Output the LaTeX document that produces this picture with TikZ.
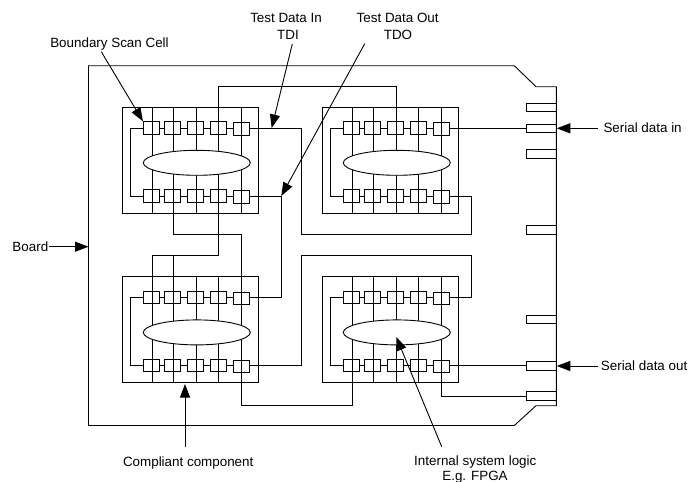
\documentclass[tikz,border=0pt]{standalone}
\usepackage{fontspec}
\setmainfont{Liberation Sans}
\usetikzlibrary{arrows.meta,shapes.geometric,calc}
\tikzset{
  wire/.style={draw=black,line width=0.9pt,line join=miter},
  chipbox/.style={draw=black,line width=0.9pt,minimum width=136pt,minimum height=106pt,inner sep=0pt},
  cellbox/.style={draw=black,line width=0.9pt,minimum width=15.8pt,minimum height=12.5pt,inner sep=0pt},
  logicbox/.style={ellipse,draw=black,fill=white,line width=0.9pt,minimum width=107pt,minimum height=25pt,inner sep=0pt},
  portbox/.style={draw=black,line width=0.9pt,minimum width=29.6pt,minimum height=8.6pt,inner sep=0pt},
  pointer/.style={draw=black,line width=0.9pt,-{Triangle[length=13.5pt,width=10pt]}},
  lbl/.style={font=\fontsize{13.4pt}{16pt}\selectfont,inner sep=0pt,text=black,anchor=base},
  lblw/.style={lbl,anchor=base west}
}
\newcommand{\chipdraw}[3]{%
 \begin{scope}[shift={(#2,#3)}]
  \node[chipbox] (#1box) at (190.3,160.3) {};
  \foreach \i/\vx in {1/152.3,2/173.3,3/196.3,4/218.7,5/241.7}{
    \coordinate (#1v\i t) at (\vx,107.3);
    \coordinate (#1v\i b) at (\vx,213.3);
    \draw[wire] (#1v\i t) -- (#1v\i b);
  }
  \foreach \i/\cx/\dy in {1/151.3/0,2/172.8/0,3/195.8/0,4/218.8/0,5/241.2/1}{
    \node[cellbox] (#1t\i) at (\cx,128+\dy) {};
    \node[cellbox] (#1b\i) at (\cx,196+\dy) {};
  }
  \foreach \i/\j in {1/2,2/3,3/4,4/5}{
    \draw[wire] (#1t\i.east) -- (#1t\i.east -| #1t\j.west);
    \draw[wire] (#1b\i.east) -- (#1b\i.east -| #1b\j.west);
  }
  \coordinate (#1loop) at (130.7,160);
  \draw[wire] (#1t1.west) -- (#1t1.west -| #1loop) -- (#1b1.west -| #1loop) -- (#1b1.west);
  \node[logicbox] (#1core) at (196.8,162.8) {};
  \coordinate (#1tout) at (#1t5.east |- #1t4.east);
  \coordinate (#1bout) at (#1b5.east |- #1b4.east);
 \end{scope}}
\begin{document}
\begin{tikzpicture}[x=1pt,y=-1pt]
\useasboundingbox (0,0) rectangle (689,482);
% board
\coordinate (bTL) at (88.5,65.7);
\coordinate (bT1) at (514.3,65.7);
\coordinate (bT2) at (536,86.7);
\coordinate (bTR) at (556.3,86.7);
\coordinate (bBR) at (556.3,405.7);
\coordinate (bB2) at (536,405.7);
\coordinate (bB1) at (514.3,425.5);
\coordinate (bBL) at (88.5,425.5);
\draw[wire] (bTL) -- (bT1) -- (bT2) -- (bTR) -- (bBR) -- (bB2) -- (bB1) -- (bBL) -- cycle;
% ports
\foreach \i/\py in {1/107.5,2/128.3,3/154,4/230.2,5/319.4,6/366,7/395.7}{
  \node[portbox] (port\i) at (541.5,\py) {};
}
% chips
\chipdraw{ca}{0}{0}
\chipdraw{cb}{200}{0}
\chipdraw{cc}{0}{169.6}
\chipdraw{cd}{200}{169.6}
% routing levels
\coordinate (yA) at (0,86);
\coordinate (yB) at (0,234.3);
\coordinate (yC) at (0,255.7);
\coordinate (yD) at (0,405.7);
\coordinate (yE) at (0,396);
\coordinate (xA) at (281.3,0);
\coordinate (xB) at (301,0);
\coordinate (xC) at (471.3,0);
% connections between chips
\draw[wire] (cav4t) -- (cav4t |- yA) -- (cbv3t |- yA) -- (cbv3t);
\draw[wire] (cav2b) -- (cav2b |- yB) -- (ccv5t |- yB) -- (ccv5t);
\draw[wire] (ccv5b) -- (ccv5b |- yD) -- (cdv1b |- yD) -- (cdv1b);
\draw[wire] (cav4b) -- (cav4b |- yC) -- (ccv1t |- yC) -- (ccv1t);
\draw[wire] (ccv2t) -- (ccv2t |- yC);
\draw[wire] (catout) -- (catout -| xB) -- (xB |- yB) -- (xC |- yB) -- (cbbout -| xC) -- (cbbout);
\draw[wire] (cabout) -- (cabout -| xA) -- (cctout -| xA) -- (cctout);
\draw[wire] (ccbout) -- (ccbout -| xB) -- (xB |- yC) -- (xC |- yC) -- (cdtout -| xC) -- (cdtout);
\draw[wire] (cbtout) -- (cbtout -| port2.west);
\draw[wire] (cdbout) -- (cdbout -| port6.west);
\draw[wire] (cdv5b) -- (cdv5b |- yE) -- (port7.west |- yE);
% labels
\node[lbl] (lBSC) at (109.5,47.7) {Boundary Scan Cell};
\node[lbl] (lTDI1) at (286,22.7) {Test Data In};
\node[lbl] (lTDI2) at (288,39) {TDI};
\node[lbl] (lTDO1) at (397.7,22.7) {Test Data Out};
\node[lbl] (lTDO2) at (398,39) {TDO};
\node[lblw] (lSIn) at (603.3,132.7) {Serial data in};
\node[lblw] (lSOut) at (600.7,370) {Serial data out};
\node[lblw] (lBoard) at (12.3,251) {Board};
\node[lbl] (lComp) at (188.2,466.7) {Compliant component};
\node[lbl] (lInt1) at (475.3,465) {Internal system logic};
\node[lbl] (lInt2) at (475,480) {E.g. FPGA};
% pointer ends
\coordinate (pBSC) at (101.3,51.7);
\coordinate (pTDI) at (292.3,44);
\coordinate (pTDO) at (364.7,43.7);
\coordinate (pSIn) at (598,128.3);
\coordinate (pSOut) at (598,366);
\coordinate (pBoard) at (49,246.7);
\coordinate (pComp) at (185,446.7);
\coordinate (pInt) at (441.7,446.7);
\coordinate (tIntern) at (396.3,337);
\coordinate (tComp) at (185,384);
\draw[pointer] (pBSC) -- (cat1.north west);
\draw[pointer] (pTDI) -- (catout -| 271.7,0);
\draw[pointer] (pTDO) -- (cabout -| xA);
\draw[pointer] (pSIn) -- (port2.east);
\draw[pointer] (pSOut) -- (port6.east);
\draw[pointer] (pBoard) -- (pBoard -| bTL);
\draw[pointer] (pComp) -- (tComp);
\draw[pointer] (pInt) -- (tIntern);
\end{tikzpicture}
\end{document}
